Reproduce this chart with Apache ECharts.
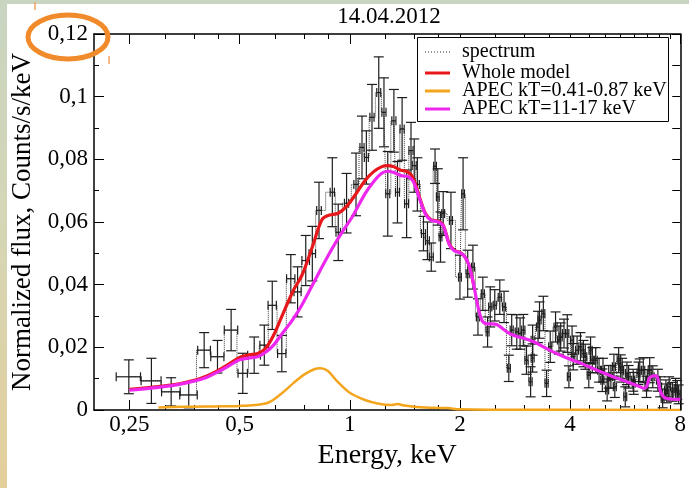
<!DOCTYPE html>
<html>
<head>
<meta charset="utf-8">
<script src="https://cdn.jsdelivr.net/npm/echarts@6/dist/echarts.min.js"></script>
<style>
  html, body { margin: 0; padding: 0; }
  body {
    width: 689px; height: 488px; overflow: hidden; position: relative;
    background: linear-gradient(180deg, #c8d5c1 0%, #d5d6b6 45%, #e4cf9b 100%);
  }
  #panel { position: absolute; left: 7px; top: 4px; width: 682px; height: 484px; background: #fff; }
  #chart { position: absolute; left: 0; top: 0; width: 689px; height: 488px; }
</style>
</head>
<body>
<div id="panel"></div>
<div id="chart"></div>
<script>
// Observed spectrum: bin centre (keV), flux, 1-sigma error, bin half-width (keV)
const specE = [0.249, 0.287, 0.325, 0.363, 0.400, 0.435, 0.474, 0.510, 0.548, 0.584, 0.614, 0.652,
  0.690, 0.720, 0.758, 0.790, 0.824, 0.896, 0.930, 0.980, 1.040, 1.080, 1.110, 1.150, 1.200, 1.240,
  1.270, 1.320, 1.350, 1.390, 1.430, 1.470, 1.500, 1.530, 1.590, 1.630, 1.670, 1.710, 1.740, 1.770,
  1.800, 1.890, 2.000, 2.040, 2.100, 2.170, 2.240, 2.310, 2.380, 2.420, 2.490, 2.570, 2.640, 2.720,
  2.770, 2.860, 2.920, 2.980, 3.120, 3.160, 3.300, 3.380, 3.450, 3.530, 3.650, 3.770, 3.930, 3.970,
  4.050, 4.180, 4.270, 4.400, 4.500, 4.550, 4.700, 4.800, 4.900, 5.050, 5.170, 5.270, 5.430, 5.550,
  5.660, 5.780, 5.970, 6.150, 6.340, 6.470, 6.600, 6.730, 6.950, 7.160, 7.310, 7.460, 7.620, 7.770, 7.920];
const specY = [0.0106, 0.0093, 0.0058, 0.0048, 0.0191, 0.0170, 0.0255, 0.0117, 0.0175, 0.0207, 0.0334, 0.0180,
  0.0419, 0.0377, 0.0477, 0.0499, 0.0637, 0.0695, 0.0567, 0.0660, 0.0720, 0.0838, 0.0806, 0.0934, 0.1013, 0.0950,
  0.0690, 0.0923, 0.0695, 0.0897, 0.0658, 0.0828, 0.0780, 0.0720, 0.0563, 0.0540, 0.0488, 0.0778, 0.0680, 0.0552,
  0.0627, 0.0605, 0.0424, 0.0690, 0.0435, 0.0456, 0.0297, 0.0371, 0.0249, 0.0329, 0.0334, 0.0360, 0.0329, 0.0133,
  0.0255, 0.0249, 0.0244, 0.0255, 0.0090, 0.0166, 0.0287, 0.0308, 0.0085, 0.0202, 0.0265, 0.0233, 0.0244, 0.0106,
  0.0223, 0.0191, 0.0202, 0.0170, 0.0111, 0.0191, 0.0159, 0.0127, 0.0095, 0.0064, 0.0106, 0.0138, 0.0159, 0.0127,
  0.0042, 0.0106, 0.0085, 0.0117, 0.0127, 0.0074, 0.0127, 0.0106, 0.0095, 0.0037, 0.0064, 0.0074, 0.0058, 0.0069, 0.0050];
const specErr = [0.0054, 0.0072, 0.0045, 0.0041, 0.0056, 0.0052, 0.0066, 0.0064, 0.0058, 0.0064, 0.0077, 0.0058,
  0.0077, 0.0080, 0.0080, 0.0087, 0.0090, 0.0110, 0.0090, 0.0095, 0.0100, 0.0100, 0.0085, 0.0105, 0.0114, 0.0110,
  0.0135, 0.0100, 0.0098, 0.0100, 0.0108, 0.0090, 0.0085, 0.0085, 0.0055, 0.0060, 0.0045, 0.0055, 0.0090, 0.0080,
  0.0070, 0.0090, 0.0070, 0.0115, 0.0075, 0.0070, 0.0058, 0.0053, 0.0048, 0.0064, 0.0050, 0.0055, 0.0050, 0.0042,
  0.0050, 0.0055, 0.0050, 0.0050, 0.0048, 0.0045, 0.0058, 0.0055, 0.0042, 0.0050, 0.0048, 0.0045, 0.0060, 0.0035,
  0.0045, 0.0045, 0.0045, 0.0040, 0.0040, 0.0042, 0.0040, 0.0038, 0.0036, 0.0035, 0.0036, 0.0040, 0.0040, 0.0038,
  0.0032, 0.0036, 0.0035, 0.0036, 0.0040, 0.0034, 0.0040, 0.0035, 0.0035, 0.0030, 0.0032, 0.0032, 0.0030, 0.0032, 0.0030];
const specHW = [0.019, 0.018, 0.019, 0.020, 0.016, 0.018, 0.020, 0.015, 0.022, 0.016, 0.016, 0.017,
  0.018, 0.016, 0.018, 0.016, 0.012, 0.012, 0.013, 0.013, 0.014, 0.014, 0.014, 0.015, 0.015, 0.016,
  0.016, 0.017, 0.017, 0.018, 0.018, 0.019, 0.019, 0.019, 0.020, 0.020, 0.021, 0.015, 0.015, 0.016,
  0.016, 0.018, 0.018, 0.018, 0.020, 0.020, 0.022, 0.022, 0.022, 0.024, 0.024, 0.025, 0.025, 0.026,
  0.026, 0.028, 0.028, 0.030, 0.030, 0.030, 0.032, 0.032, 0.034, 0.034, 0.035, 0.036, 0.038, 0.038,
  0.040, 0.040, 0.042, 0.042, 0.044, 0.044, 0.045, 0.046, 0.046, 0.048, 0.048, 0.050, 0.050, 0.052,
  0.052, 0.054, 0.055, 0.056, 0.058, 0.058, 0.060, 0.060, 0.062, 0.064, 0.064, 0.066, 0.066, 0.068, 0.068];

// Further narrow high-energy bins
const hardE = [3.04, 3.16, 3.27, 3.73, 3.85, 4.08, 4.35, 4.60, 4.92, 5.10, 5.30, 5.50, 5.72, 5.95,
  6.20, 6.50, 7.05, 7.35, 7.85];
const hardY = [0.0159, 0.0223, 0.0265, 0.0223, 0.0244, 0.0170, 0.0180, 0.0159, 0.0127, 0.0106, 0.0074,
  0.0138, 0.0117, 0.0095, 0.0127, 0.0095, 0.0074, 0.0053, 0.0064];
const hardErr = [0.0045, 0.0048, 0.0050, 0.0045, 0.0046, 0.0042, 0.0042, 0.0040, 0.0038, 0.0036, 0.0034,
  0.0038, 0.0036, 0.0035, 0.0036, 0.0034, 0.0032, 0.0030, 0.0030];
const hardHW = [0.030, 0.030, 0.032, 0.036, 0.038, 0.040, 0.042, 0.044, 0.046, 0.048, 0.050, 0.052,
  0.054, 0.056, 0.058, 0.060, 0.064, 0.066, 0.068];

// Whole model (red)
const wholeE = [0.25, 0.30, 0.35, 0.40, 0.45, 0.50, 0.53, 0.56, 0.59, 0.62, 0.65, 0.70, 0.74, 0.79, 0.84,
  0.88, 0.93, 0.98, 1.04, 1.10, 1.16, 1.22, 1.27, 1.32, 1.38, 1.44, 1.49, 1.55, 1.61, 1.67, 1.74, 1.80,
  1.87, 1.93, 2.00, 2.06, 2.12, 2.18];
const wholeY = [0.0066, 0.0075, 0.0086, 0.0105, 0.0135, 0.0168, 0.0176, 0.0180, 0.0198, 0.0240, 0.0295, 0.0380,
  0.0430, 0.0520, 0.0608, 0.0622, 0.0628, 0.0650, 0.0690, 0.0732, 0.0760, 0.0776, 0.0780, 0.0776, 0.0765, 0.0760,
  0.0740, 0.0680, 0.0627, 0.0607, 0.0603, 0.0590, 0.0530, 0.0510, 0.0503, 0.0490, 0.0460, 0.0400];

// Hot component, APEC kT = 11-17 keV (magenta)
const hotE = [0.25, 0.30, 0.35, 0.40, 0.45, 0.50, 0.53, 0.56, 0.59, 0.62, 0.65, 0.70, 0.74, 0.80, 0.88,
  0.95, 1.02, 1.10, 1.16, 1.22, 1.27, 1.32, 1.38, 1.44, 1.49, 1.55, 1.61, 1.67, 1.74, 1.80, 1.87, 1.93,
  2.00, 2.06, 2.12, 2.18, 2.24, 2.30, 2.37, 2.45, 2.52, 2.60, 2.70, 2.81, 3.00, 3.20, 3.50, 3.85, 4.30,
  4.74, 5.20, 5.72, 6.10, 6.39, 6.50, 6.58, 6.70, 6.85, 6.95, 7.05, 7.20, 7.40, 8.00];
const hotY = [0.0063, 0.0072, 0.0084, 0.0101, 0.0130, 0.0160, 0.0166, 0.0170, 0.0185, 0.0208, 0.0240, 0.0290,
  0.0335, 0.0410, 0.0500, 0.0565, 0.0620, 0.0690, 0.0728, 0.0755, 0.0762, 0.0758, 0.0748, 0.0745, 0.0730,
  0.0675, 0.0625, 0.0605, 0.0601, 0.0588, 0.0528, 0.0508, 0.0502, 0.0490, 0.0460, 0.0400, 0.0330, 0.0285,
  0.0275, 0.0275, 0.0273, 0.0262, 0.0248, 0.0238, 0.0228, 0.0216, 0.0192, 0.0170, 0.0148, 0.0127, 0.0108,
  0.0090, 0.0078, 0.0069, 0.0080, 0.0102, 0.0108, 0.0110, 0.0100, 0.0062, 0.0042, 0.0036, 0.0034];

// Soft component, APEC kT = 0.41-0.87 keV (orange)
const softE = [0.30, 0.35, 0.40, 0.45, 0.50, 0.55, 0.60, 0.65, 0.70, 0.75, 0.80, 0.83, 0.87, 0.93, 1.00,
  1.10, 1.20, 1.30, 1.35, 1.40, 1.50, 1.70, 1.85, 2.00, 2.50, 8.00];
const softY = [0.0008, 0.0010, 0.0011, 0.0012, 0.0013, 0.0016, 0.0024, 0.0052, 0.0085, 0.0113, 0.0130, 0.0133,
  0.0125, 0.0088, 0.0055, 0.0032, 0.0020, 0.0016, 0.0019, 0.0015, 0.0010, 0.0007, 0.0006, 0.0002, 0.0001, 0.0000];

// Axis ticks (keV)
const xMajorTicks = [0.25, 0.5, 1, 2, 4, 8];
const xMinorTicks = [0.3125, 0.375, 0.4375, 0.625, 0.75, 0.875, 1.25, 1.5, 1.75, 2.5, 3, 3.5,
  4.5, 5, 5.5, 6, 6.5, 7, 7.5];

const SERIF = 'Liberation Serif';
const INK = '#000';

const pairs = (xs, ys) => xs.map((x, i) => [x, ys[i]]);
const comma = v => String(v).replace('.', ',');

// all bins as [E, flux, err, lo, hi], ordered by energy
const bins = specE.map((e, i) => [e, specY[i], specErr[i], e - specHW[i], e + specHW[i]])
  .concat(hardE.map((e, i) => [e, hardY[i], hardErr[i], e - hardHW[i], e + hardHW[i]]))
  .sort((a, b) => a[0] - b[0]);

function renderErrBar(params, api) {
  const e = api.value(0), y = api.value(1), err = api.value(2);
  const lo = api.value(3), hi = api.value(4);
  const c = api.coord([e, y]);
  const t = api.coord([e, y + err]);
  const b = api.coord([e, Math.max(y - err, 0)]);
  const l = api.coord([lo, y]);
  const r = api.coord([hi, y]);
  const cap = 5, tick = 4.5;
  const style = { stroke: '#1e1e1e', lineWidth: 1.2, fill: null };
  const seg = (x1, y1, x2, y2) => ({ type: 'line', shape: { x1, y1, x2, y2 }, style });
  return {
    type: 'group',
    children: [
      seg(c[0], t[1], c[0], b[1]),
      seg(c[0] - cap, t[1], c[0] + cap, t[1]),
      seg(c[0] - cap, b[1], c[0] + cap, b[1]),
      seg(l[0], c[1], r[0], c[1]),
      seg(l[0], c[1] - tick, l[0], c[1] + tick),
      seg(r[0], c[1] - tick, r[0], c[1] + tick)
    ]
  };
}

const xBase = { type: 'log', logBase: 2, min: 0.2, max: 8, gridIndex: 0, splitLine: { show: false } };
const chart = echarts.init(document.getElementById('chart'), null, { renderer: 'canvas' });

chart.setOption({
  backgroundColor: 'transparent',
  animation: false,
  textStyle: { fontFamily: SERIF },
  grid: { left: 94, right: 6, top: 34, bottom: 78, containLabel: false },
  xAxis: [
    Object.assign({}, xBase, {
      position: 'bottom',
      axisLine: { show: true, lineStyle: { color: INK, width: 1.5 } },
      axisTick: { show: true, inside: true, length: 10, customValues: xMajorTicks, lineStyle: { color: INK } },
      axisLabel: { show: true, customValues: xMajorTicks, formatter: v => comma(v), color: INK,
        fontFamily: SERIF, fontSize: 23, margin: 3 },
      name: 'Energy, keV', nameLocation: 'middle', nameGap: 32,
      nameTextStyle: { fontFamily: SERIF, fontSize: 28, color: INK }
    }),
    Object.assign({}, xBase, {
      position: 'bottom',
      axisLine: { show: false },
      axisTick: { show: true, inside: true, length: 5, customValues: xMinorTicks, lineStyle: { color: INK } },
      axisLabel: { show: false }
    }),
    Object.assign({}, xBase, {
      position: 'top',
      axisLine: { show: true, lineStyle: { color: INK, width: 1.5 } },
      axisTick: { show: true, inside: true, length: 10, customValues: xMajorTicks, lineStyle: { color: INK } },
      axisLabel: { show: false }
    }),
    Object.assign({}, xBase, {
      position: 'top',
      axisLine: { show: false },
      axisTick: { show: true, inside: true, length: 5, customValues: xMinorTicks, lineStyle: { color: INK } },
      axisLabel: { show: false }
    })
  ],
  yAxis: [
    {
      type: 'value', min: 0, max: 0.12, interval: 0.02, position: 'left',
      axisLine: { show: true, lineStyle: { color: INK, width: 1.5 } },
      axisTick: { show: true, inside: true, length: 10, lineStyle: { color: INK } },
      minorTick: { show: true, splitNumber: 2, length: 5, lineStyle: { color: INK } },
      splitLine: { show: false },
      axisLabel: { formatter: v => comma(+v.toFixed(2)), color: INK, fontFamily: SERIF, fontSize: 23, margin: 6 },
      name: 'Normalized flux, Counts/s/keV', nameLocation: 'middle', nameGap: 57, nameRotate: 90,
      nameTextStyle: { fontFamily: SERIF, fontSize: 27, color: INK }
    },
    {
      type: 'value', min: 0, max: 0.12, interval: 0.01, position: 'right',
      axisLine: { show: true, lineStyle: { color: INK, width: 1.5 } },
      axisTick: { show: true, inside: true, length: 8, lineStyle: { color: INK } },
      splitLine: { show: false },
      axisLabel: { show: false }
    }
  ],
  series: [
    {
      name: 'spectrum', type: 'line', data: bins.map(b => [b[0], b[1]]), step: 'middle',
      showSymbol: false, symbol: 'none', z: 2,
      lineStyle: { type: 'dotted', width: 1, color: '#3a3a3a' }
    },
    {
      name: 'errors', type: 'custom', data: bins, renderItem: renderErrBar, z: 3,
      encode: { x: 0, y: 1 }
    },
    {
      name: 'APEC kT=0.41-0.87 keV', type: 'line', data: pairs(softE, softY), smooth: 0.35,
      symbol: 'none', z: 4, lineStyle: { width: 2.5, color: '#f3a51d' }
    },
    {
      name: 'Whole model', type: 'line', data: pairs(wholeE, wholeY), smooth: 0.35,
      symbol: 'none', z: 5, lineStyle: { width: 3.2, color: '#e8171b' }
    },
    {
      name: 'APEC kT=11-17 keV', type: 'line', data: pairs(hotE, hotY), smooth: 0.3,
      symbol: 'none', z: 6, lineStyle: { width: 3.2, color: '#ee27ee' }
    }
  ],
  graphic: [
    { type: 'text', x: 389, y: 17, z: 10,
      style: { text: '14.04.2012', fontSize: 23, fontFamily: SERIF, fill: INK, align: 'center', verticalAlign: 'middle' } },
    // legend box
    { type: 'rect', shape: { x: 417.5, y: 37.5, width: 251, height: 84 }, z: 20,
      style: { fill: '#fff', stroke: INK, lineWidth: 1 } },
    { type: 'line', shape: { x1: 425, y1: 52, x2: 450, y2: 52 }, z: 21,
      style: { stroke: '#333', lineWidth: 1, lineDash: [1, 2] } },
    { type: 'line', shape: { x1: 425, y1: 73, x2: 450, y2: 73 }, z: 21,
      style: { stroke: '#e8171b', lineWidth: 3 } },
    { type: 'line', shape: { x1: 425, y1: 91, x2: 450, y2: 91 }, z: 21,
      style: { stroke: '#f3a51d', lineWidth: 3 } },
    { type: 'line', shape: { x1: 425, y1: 109, x2: 450, y2: 109 }, z: 21,
      style: { stroke: '#ee27ee', lineWidth: 3 } },
    { type: 'text', x: 462, y: 52, z: 21,
      style: { text: 'spectrum', fontSize: 20, fontFamily: SERIF, fill: INK, verticalAlign: 'middle' } },
    { type: 'text', x: 462, y: 73, z: 21,
      style: { text: 'Whole model', fontSize: 20, fontFamily: SERIF, fill: INK, verticalAlign: 'middle' } },
    { type: 'text', x: 462, y: 91, z: 21,
      style: { text: 'APEC kT=0.41-0.87 keV', fontSize: 20, fontFamily: SERIF, fill: INK, verticalAlign: 'middle' } },
    { type: 'text', x: 462, y: 109, z: 21,
      style: { text: 'APEC kT=11-17 keV', fontSize: 20, fontFamily: SERIF, fill: INK, verticalAlign: 'middle' } },
    // highlight ring round the top value of the flux axis
    { type: 'ellipse', shape: { cx: 68, cy: 37, rx: 40, ry: 22 }, z: 30,
      style: { fill: null, stroke: '#f08a2a', lineWidth: 5 } },
    { type: 'line', shape: { x1: 35, y1: 2, x2: 35, y2: 10 }, z: 30,
      style: { stroke: '#f5a060', lineWidth: 1.5 } },
    { type: 'line', shape: { x1: 109, y1: 56, x2: 109, y2: 64 }, z: 30,
      style: { stroke: '#f5a060', lineWidth: 1.5 } }
  ]
});
</script>
</body>
</html>
